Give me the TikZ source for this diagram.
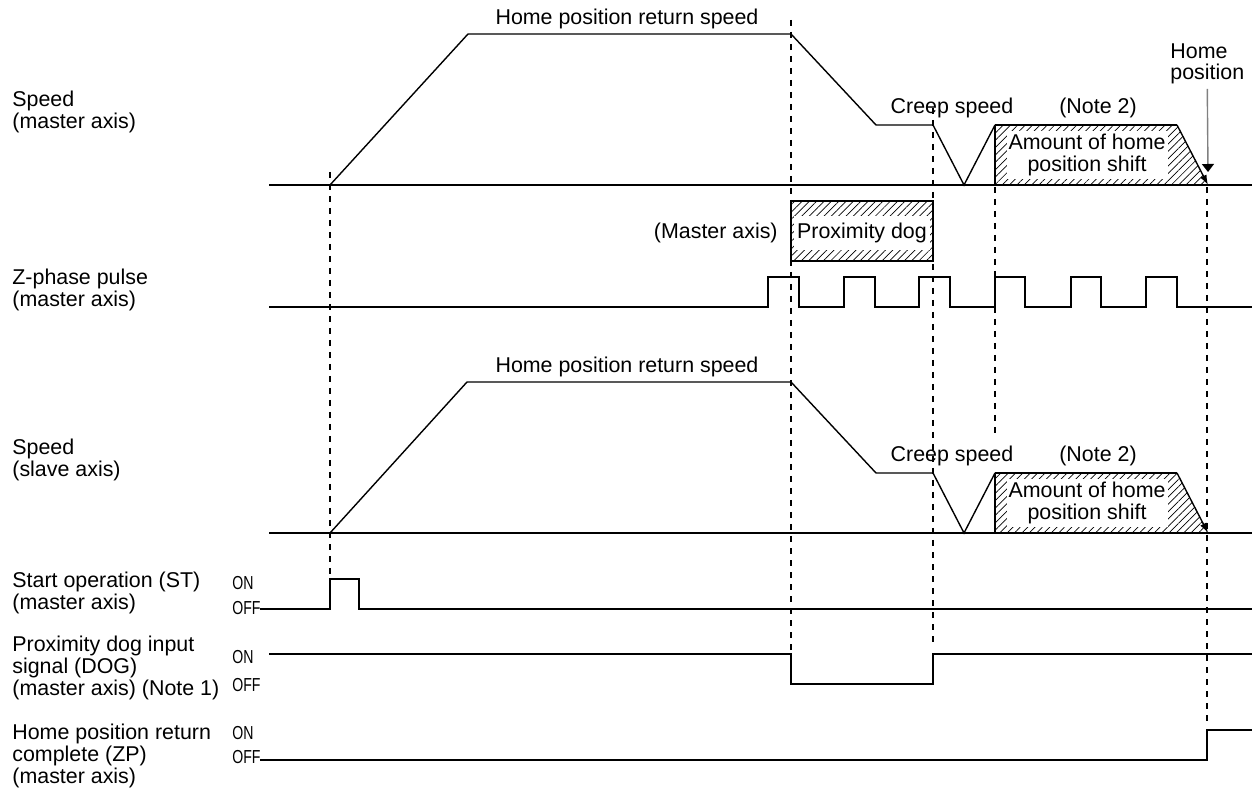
\documentclass[tikz,border=0pt]{standalone}
\usepackage{fontspec}
\setmainfont{Liberation Sans}
\usetikzlibrary{arrows.meta, patterns.meta}

\begin{document}
\begin{tikzpicture}[x=0.5pt, y=-0.5pt, >=Latex,
		font=\fontsize{10.7pt}{10.9pt}\selectfont,
		txt/.style={inner sep=0pt, align=left},
		onoff/.style={inner sep=0pt, anchor=west, font=\fontsize{9.4pt}{10pt}\selectfont, xscale=0.75},
		sig/.style={line width=0.7pt},
		axisline/.style={line width=1.3pt},
		guide/.style={line width=0.6pt, dash pattern=on 3pt off 3pt},
		hatch/.style={pattern={Lines[angle=45,distance=2.6pt,line width=0.35pt]}},
		note/.style={fill=white, inner xsep=1pt, inner ysep=1.5pt, align=center}]
	\useasboundingbox (0,0) rectangle (1252,790);
	%Beschriftung links
	\node[txt, anchor=west] (lspdm) at (12,112) {Speed\\(master axis)};
	\node[txt, anchor=west] (lzph) at (12,290) {Z-phase pulse\\(master axis)};
	\node[txt, anchor=west] (lspds) at (12,460) {Speed\\(slave axis)};
	\node[txt, anchor=west] (lst) at (12,593) {Start operation (ST)\\(master axis)};
	\node[txt, anchor=west] (ldog) at (12,668) {Proximity dog input\\signal (DOG)\\(master axis) (Note 1)};
	\node[txt, anchor=west] (lzp) at (12,756) {Home position return\\complete (ZP)\\(master axis)};
	\node[onoff] (ston) at (232,583) {ON};
	\node[onoff] (stoff) at (232,608) {OFF};
	\node[onoff] (dogon) at (232,657) {ON};
	\node[onoff] (dogoff) at (232,685) {OFF};
	\node[onoff] (zpon) at (232,733) {ON};
	\node[onoff] (zpoff) at (232,757) {OFF};
	%Hilfslinien
	\draw[guide] (330,172) -- (330,579);
	\draw[guide] (791,20) -- (791,654);
	\draw[guide] (933,108) -- (933,647);
	\draw[guide] (995,187) -- (995,433);
	\draw[guide] (1207,187) -- (1207,723);
	%Geschwindigkeit Masterachse
	\fill[hatch] (995,125) -- (1177,125) -- (1208,185) -- (995,185) -- cycle;
	\draw[axisline] (269,185) -- (1252,185);
	\draw[sig] (330,185) -- (468,34) -- (791,34) -- (876,125) -- (933,125) -- (964,185) -- (995,125);
	\draw[sig] (995,185) -- (995,125);
	\draw[axisline] (995,125) -- (1177,125);
	\draw[sig, -{Latex[length=5pt,width=3.5pt]}] (1177,125) -- (1208,185);
	\node[txt] (hprsm) at (627,19) {Home position return speed};
	\node[txt] (creepm) at (952,108) {Creep speed};
	\node[txt] (notem) at (1098,108) {(Note 2)};
	\node[note] (shiftm) at (1087,155) {Amount of home\\position shift};
	\node[txt, anchor=north west] (homepos) at (1170,43) {Home\\position};
	\coordinate (hpos) at (1208,172);
	\draw[gray, line width=0.7pt, -{Triangle[black,length=4pt,width=6pt]}] ([yshift=-2pt]homepos.south) -- (hpos);
	%Naeherungshund
	\draw[sig, hatch] (791,201) rectangle (933,261);
	\node[txt, fill=white, inner xsep=1.5pt, inner ysep=3.5pt] (dog) at (862,233) {Proximity dog};
	\node[txt, anchor=east] (dogm) at (778,233) {(Master axis)};
	%Nullimpuls
	\draw[sig] (269,307) -- (768,307) -- (768,277) -- (799,277) -- (799,307) -- (844,307) -- (844,277) -- (875,277) -- (875,307)
		-- (919,307) -- (919,277) -- (950,277) -- (950,307) -- (995,307) -- (995,277) -- (1025,277) -- (1025,307)
		-- (1071,307) -- (1071,277) -- (1101,277) -- (1101,307) -- (1146,307) -- (1146,277) -- (1177,277) -- (1177,307) -- (1252,307);
	%Geschwindigkeit Slaveachse
	\fill[hatch] (995,473) -- (1177,473) -- (1208,533) -- (995,533) -- cycle;
	\draw[axisline] (269,533) -- (1252,533);
	\draw[sig] (330,533) -- (467,382) -- (791,382) -- (876,473) -- (933,473) -- (964,533) -- (995,473);
	\draw[sig] (995,533) -- (995,473);
	\draw[axisline] (995,473) -- (1177,473);
	\draw[sig, -{Latex[length=5pt,width=3.5pt]}] (1177,473) -- (1208,533);
	\node[txt] (hprss) at (627,367) {Home position return speed};
	\node[txt] (creeps) at (952,456) {Creep speed};
	\node[txt] (notes) at (1098,456) {(Note 2)};
	\node[note] (shifts) at (1087,503) {Amount of home\\position shift};
	%Signale
	\draw[sig] (260,609) -- (330,609) -- (330,579) -- (359,579) -- (359,609) -- (1252,609);
	\draw[sig] (269,654) -- (791,654) -- (791,684) -- (933,684) -- (933,654) -- (1252,654);
	\draw[sig] (260,760) -- (1207,760) -- (1207,730) -- (1252,730);
\end{tikzpicture}
\end{document}
